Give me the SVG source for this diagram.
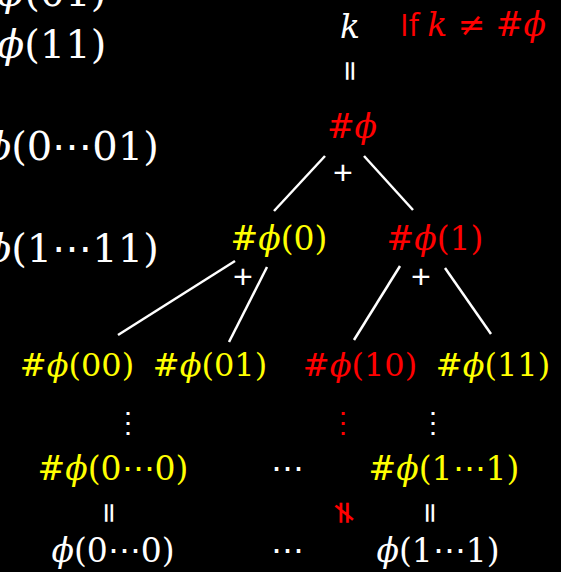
<svg xmlns="http://www.w3.org/2000/svg" width="561" height="572" viewBox="0 0 561 572">
<style>
text{font-family:"DejaVu Serif","Liberation Serif",serif;font-size:33px}
.w{fill:#fff}.y{fill:#ffff00}.r{fill:#ff0000}
.i{font-style:italic}
.m{text-anchor:middle}
.eq{font-family:"DejaVu Sans",sans-serif;font-size:28px;text-anchor:middle;dominant-baseline:central}
.sans{font-family:"Open Sans","Liberation Sans",sans-serif}
.big{font-size:40px}
.plus{font-family:"Liberation Sans",sans-serif;font-size:34px;text-anchor:middle;fill:#fff}
line{stroke:#fff;stroke-width:2.5}
</style>
<rect width="561" height="572" fill="#000"/>
<g id="left-labels" class="w">
<text class="big" x="-3" y="6"><tspan class="i">ϕ</tspan>(01)</text>
<text class="big" x="-3" y="58"><tspan class="i">ϕ</tspan>(11)</text>
<text class="big" x="-16" y="160"><tspan class="i">ϕ</tspan>(0⋯01)</text>
<text class="big" x="-16" y="262"><tspan class="i">ϕ</tspan>(1⋯11)</text>
</g>
<g id="k"><text class="w i m" x="350" y="38">k</text></g>
<g id="cond"><text class="r" x="400" y="36"><tspan class="sans" style="font-size:31px">If </tspan><tspan class="i">k</tspan> ≠ #<tspan class="i">ϕ</tspan></text></g>
<g id="eq-top"><text class="w eq" transform="translate(350,71) rotate(90)">=</text></g>
<g id="root"><text class="r m" x="352" y="138">#<tspan class="i">ϕ</tspan></text></g>
<g id="n0"><text class="y m" x="279" y="250">#<tspan class="i">ϕ</tspan>(0)</text></g>
<g id="n1"><text class="r m" x="435" y="250">#<tspan class="i">ϕ</tspan>(1)</text></g>
<g id="n00"><text class="y m" x="77" y="376" style="font-size:32px">#<tspan class="i">ϕ</tspan>(00)</text></g>
<g id="n01"><text class="y m" x="210" y="376" style="font-size:32px">#<tspan class="i">ϕ</tspan>(01)</text></g>
<g id="n10"><text class="r m" x="360" y="376" style="font-size:32px">#<tspan class="i">ϕ</tspan>(10)</text></g>
<g id="n11"><text class="y m" x="493" y="376" style="font-size:32px">#<tspan class="i">ϕ</tspan>(11)</text></g>
<g id="vdots">
<text class="w m" x="128" y="432" style="font-size:28px">⋮</text>
<text class="r m" x="343" y="432" style="font-size:28px">⋮</text>
<text class="w m" x="433" y="432" style="font-size:28px">⋮</text>
</g>
<g id="n0end"><text class="y m" x="113" y="480">#<tspan class="i">ϕ</tspan>(0⋯0)</text></g>
<g id="hdots1"><text class="w m" x="287" y="480">⋯</text></g>
<g id="n1end"><text class="y m" x="444" y="480">#<tspan class="i">ϕ</tspan>(1⋯1)</text></g>
<g id="eqs">
<text class="w eq" transform="translate(109,513) rotate(90)">=</text>
<text class="r eq" transform="translate(345,513) rotate(90)" style="font-size:32px">≠</text>
<text class="w eq" transform="translate(430,513) rotate(90)">=</text>
</g>
<g id="p0"><text class="w m" x="113" y="562"><tspan class="i">ϕ</tspan>(0⋯0)</text></g>
<g id="hdots2"><text class="w m" x="287" y="562">⋯</text></g>
<g id="p1"><text class="w m" x="438" y="562"><tspan class="i">ϕ</tspan>(1⋯1)</text></g>
<g id="connectors">
<line x1="325" y1="156" x2="274" y2="211"/>
<line x1="364" y1="156" x2="413" y2="210"/>
<line x1="235" y1="261" x2="118" y2="335"/>
<line x1="267" y1="267" x2="229" y2="342"/>
<line x1="400" y1="266" x2="354" y2="340"/>
<line x1="445" y1="268" x2="491" y2="334"/>
<text class="plus" x="343" y="184">+</text>
<text class="plus" x="243" y="288">+</text>
<text class="plus" x="421" y="288">+</text>
</g>
</svg>
